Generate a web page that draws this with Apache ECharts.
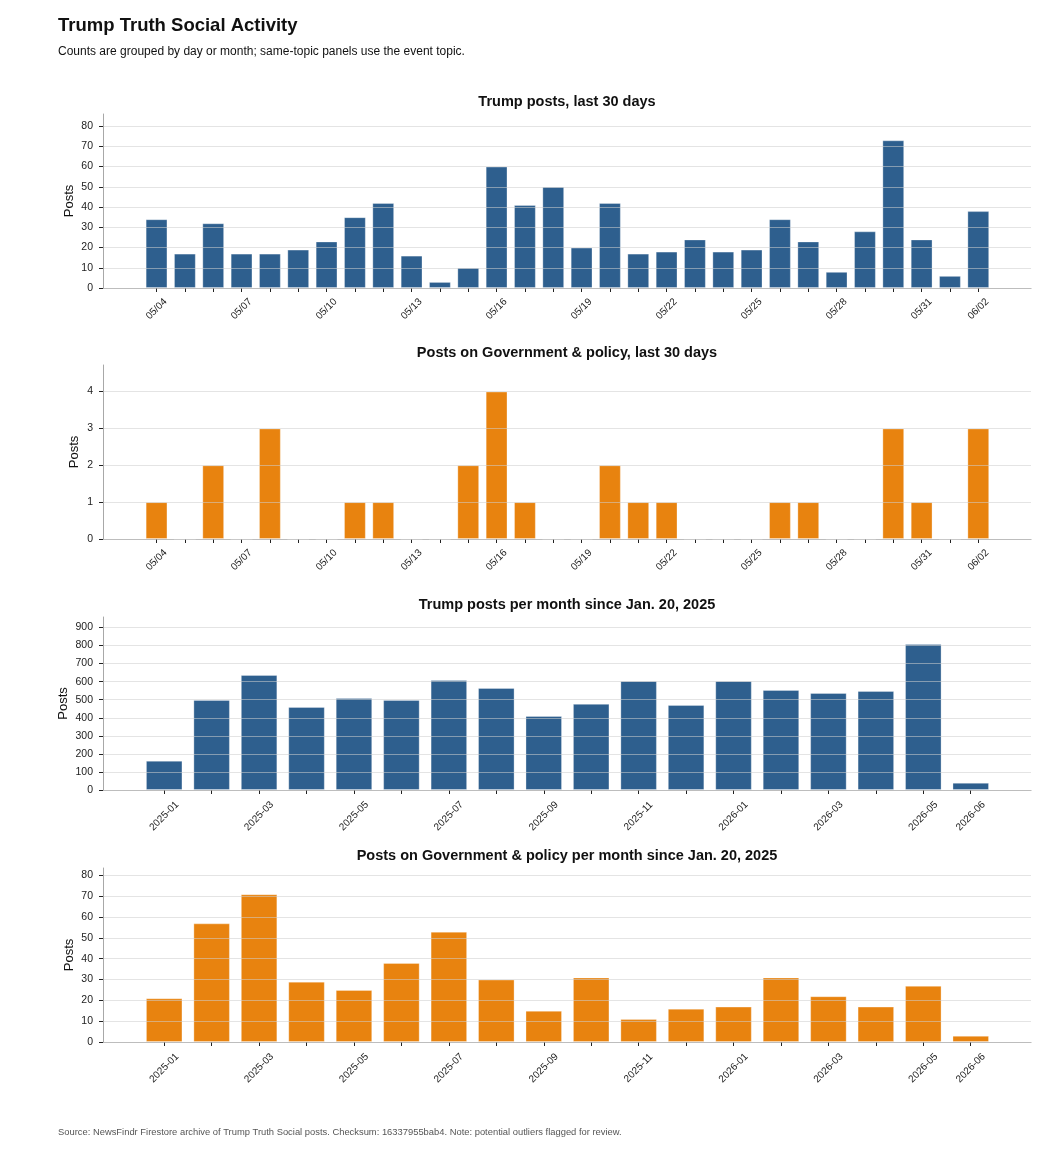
<!DOCTYPE html>
<html>
<head>
<meta charset="utf-8">
<title>Trump Truth Social Activity</title>
<script src="https://cdn.jsdelivr.net/npm/echarts@6/dist/echarts.min.js"></script>
<style>
    html, body { margin: 0; padding: 0; background: #fff; }
    #chart { width: 1056px; height: 1152px; }
</style>
</head>
<body>
<div id="chart"></div>
<script>
// daily data, 05/04 - 06/02
const day_labels = ["05/04", "05/05", "05/06", "05/07", "05/08", "05/09", "05/10", "05/11", "05/12", "05/13",
    "05/14", "05/15", "05/16", "05/17", "05/18", "05/19", "05/20", "05/21", "05/22", "05/23",
    "05/24", "05/25", "05/26", "05/27", "05/28", "05/29", "05/30", "05/31", "06/01", "06/02"];
const day_posts = [34, 17, 32, 17, 17, 19, 23, 35, 42, 16, 3, 10, 60, 41, 50, 20, 42, 17, 18, 24, 18, 19, 34, 23, 8, 28, 73, 24, 6, 38];
const day_policy = [1, 0, 2, 0, 3, 0, 0, 1, 1, 0, 0, 2, 4, 1, 0, 0, 2, 1, 1, 0, 0, 0, 1, 1, 0, 0, 3, 1, 0, 3];
const day_shown = [0, 3, 6, 9, 12, 15, 18, 21, 24, 27, 29]; // which days get a label

// monthly data since 2025-01
const month_labels = ["2025-01", "2025-02", "2025-03", "2025-04", "2025-05", "2025-06", "2025-07", "2025-08", "2025-09",
    "2025-10", "2025-11", "2025-12", "2026-01", "2026-02", "2026-03", "2026-04", "2026-05", "2026-06"];
const month_posts = [162, 499, 637, 460, 510, 499, 609, 565, 410, 477, 604, 471, 604, 554, 537, 548, 808, 40];
const month_policy = [21, 57, 71, 29, 25, 38, 53, 30, 15, 31, 11, 16, 17, 31, 22, 17, 27, 3];
const month_shown = [0, 2, 4, 6, 8, 10, 12, 14, 16, 17];

// y tick values
const ticks_day_posts = [0, 10, 20, 30, 40, 50, 60, 70, 80];
const ticks_day_policy = [0, 1, 2, 3, 4];
const ticks_month_posts = [0, 100, 200, 300, 400, 500, 600, 700, 800, 900];
const ticks_month_policy = [0, 10, 20, 30, 40, 50, 60, 70, 80];

(function () {
    const my_echart = echarts.init(document.querySelector("#chart")); //echarts instance
    const font = "'Liberation Sans', Arial, Helvetica, sans-serif";
    const blue = "#2e5f8e";
    const orange = "#e8830f";

    // one panel = grid + x axis + y axis + bar series
    const panels = [
        { top: 114, height: 174, title: "Trump posts, last 30 days", labels: day_labels, shown: day_shown, values: day_posts,
          color: blue, xmin: -1.89, xmax: 30.86, ymax: 86, yticks: ticks_day_posts, nameGap: 27, labelGap: 21 },
        { top: 365, height: 174, title: "Posts on Government & policy, last 30 days", labels: day_labels, shown: day_shown, values: day_policy,
          color: orange, xmin: -1.89, xmax: 30.86, ymax: 4.72, yticks: ticks_day_policy, nameGap: 22, labelGap: 21 },
        { top: 617, height: 173, title: "Trump posts per month since Jan. 20, 2025", labels: month_labels, shown: month_shown, values: month_posts,
          color: blue, xmin: -1.29, xmax: 18.27, ymax: 958, yticks: ticks_month_posts, nameGap: 33, labelGap: 26 },
        { top: 868, height: 174, title: "Posts on Government & policy per month since Jan. 20, 2025", labels: month_labels, shown: month_shown, values: month_policy,
          color: orange, xmin: -1.29, xmax: 18.27, ymax: 83.6, yticks: ticks_month_policy, nameGap: 27, labelGap: 26 }
    ];

    const grid = [], xAxis = [], yAxis = [], series = [];
    const graphic = [
        { type: "text", left: 58, top: 16, style: { text: "Trump Truth Social Activity", font: "bold 18.5px " + font, fill: "#111" } },
        { type: "text", left: 58, top: 46, style: { text: "Counts are grouped by day or month; same-topic panels use the event topic.", font: "12px " + font, fill: "#111" } },
        { type: "text", left: 58, top: 1128, style: { text: "Source: NewsFindr Firestore archive of Trump Truth Social posts. Checksum: 16337955bab4. Note: potential outliers flagged for review.", font: "9.4px " + font, fill: "#555" } }
    ];

    panels.forEach(function (p, i) {
        grid.push({ left: 103, width: 928, top: p.top, height: p.height });
        graphic.push({
            type: "text", x: 567, y: p.top - 12,
            style: { text: p.title, font: "bold 14.5px " + font, fill: "#111", textAlign: "center", textVerticalAlign: "middle" }
        });
        const idx = p.labels.map(function (d, k) { return k; }); //x positions
        xAxis.push({
            type: "value", gridIndex: i, min: p.xmin, max: p.xmax,
            axisLine: { show: true, onZero: false, lineStyle: { color: "#a8a8a8" } },
            axisTick: { show: true, length: 4, customValues: idx, lineStyle: { color: "#222" } },
            axisLabel: {
                customValues: p.shown, rotate: 45, margin: p.labelGap, fontSize: 10, color: "#222", fontFamily: font,
                align: "center", verticalAlign: "middle",
                formatter: function (v) { return p.labels[Math.round(v)]; }
            },
            splitLine: { show: false }
        });
        yAxis.push({
            type: "value", gridIndex: i, min: 0, max: p.ymax, z: 5,
            name: "Posts", nameLocation: "middle", nameGap: p.nameGap, nameMoveOverlap: false,
            nameTextStyle: { fontSize: 13, color: "#111", fontFamily: font },
            axisLine: { show: true, onZero: false, lineStyle: { color: "#a8a8a8" } },
            axisTick: { show: true, length: 4, customValues: p.yticks, lineStyle: { color: "#222" } },
            axisLabel: { customValues: p.yticks, fontSize: 10.5, color: "#222", fontFamily: font, margin: 10 },
            splitLine: { show: true, customValues: p.yticks, lineStyle: { color: "rgba(205, 205, 205, 0.55)", width: 1 } }
        });
        series.push({
            type: "bar", xAxisIndex: i, yAxisIndex: i,
            barWidth: "77%",
            data: p.values.map(function (v, k) { return [k, v]; }),
            itemStyle: { color: p.color, borderColor: "rgba(255, 255, 255, 0.3)", borderWidth: 1 },
            emphasis: { disabled: true }
        });
    });

    let option = {
        backgroundColor: "#fff",
        animation: false,
        textStyle: { fontFamily: font },
        grid: grid,
        xAxis: xAxis,
        yAxis: yAxis,
        series: series,
        graphic: graphic
    }; //配置项
    my_echart.setOption(option);
    window.addEventListener("resize", function () {
        my_echart.resize();
    });
})();
</script>
</body>
</html>
